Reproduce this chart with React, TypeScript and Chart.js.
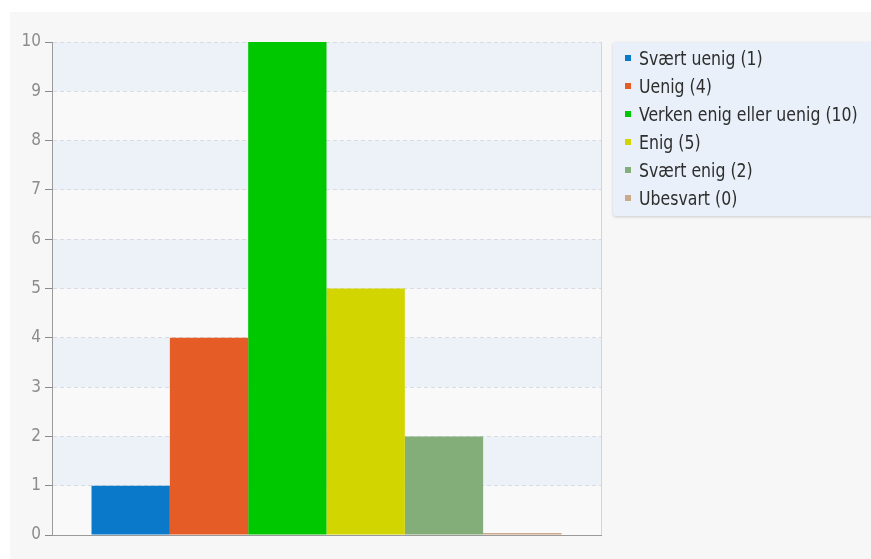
import React, { useEffect, useRef } from "react";
import { Chart, registerables } from "chart.js";

Chart.register(...registerables);

const categories = [
  "Svært uenig",
  "Uenig",
  "Verken enig eller uenig",
  "Enig",
  "Svært enig",
  "Ubesvart",
];
const counts = [1, 4, 10, 5, 2, 0];
const barColors = ["#0a79c9", "#e65c27", "#00c800", "#d3d500", "#84ae79", "#cca98a"];
const yMin = 0;
const yMax = 10;
const yStep = 1;

const FONT = '"DejaVu Sans Condensed", "DejaVu Sans", sans-serif';

const bandsPlugin = {
  id: "bands",
  beforeDraw(chart: any) {
    const { ctx, chartArea, scales } = chart;
    const { left, right, top, bottom } = chartArea;
    const y = scales.y;
    ctx.save();
    ctx.fillStyle = "#f9f9f9";
    ctx.fillRect(left, top, right - left, bottom - top);
    let idx = 0;
    for (let v = yMin; v < yMax; v += yStep, idx++) {
      if (idx % 2 === 1) {
        const y1 = y.getPixelForValue(v + yStep);
        const y0 = y.getPixelForValue(v);
        ctx.fillStyle = "#edf1f8";
        ctx.fillRect(left, y1, right - left, y0 - y1);
      }
    }
    ctx.strokeStyle = "#d4d4d4";
    ctx.lineWidth = 1;
    ctx.beginPath();
    ctx.moveTo(Math.round(right) + 0.5, top);
    ctx.lineTo(Math.round(right) + 0.5, bottom);
    ctx.stroke();
    ctx.restore();
  },
};

export default function App() {
  const canvasRef = useRef<HTMLCanvasElement | null>(null);

  useEffect(() => {
    const canvas = canvasRef.current;
    if (!canvas) return;
    const chart = new Chart(canvas, {
      type: "bar",
      data: {
        labels: [""],
        datasets: categories.map((c, i) => ({
          label: c,
          data: [counts[i]],
          backgroundColor: barColors[i],
          borderWidth: 0,
          minBarLength: 2,
        })),
      },
      options: {
        responsive: false,
        animation: false,
        devicePixelRatio: 1,
        layout: { padding: { left: 0, right: 270, top: 42, bottom: 24 } },
        plugins: {
          legend: { display: false },
          tooltip: { enabled: false },
          title: { display: false },
        },
        datasets: {
          bar: { categoryPercentage: 0.856, barPercentage: 1 },
        },
        scales: {
          x: {
            display: true,
            grid: { display: false, drawTicks: false, tickLength: 0 },
            ticks: { display: false, padding: 0 },
            border: { display: true, color: "#9a9a9a", width: 1 },
          },
          y: {
            min: yMin,
            max: yMax,
            afterFit: (s: any) => {
              s.width = 52;
            },
            ticks: {
              stepSize: yStep,
              color: "#8c8c8c",
              padding: 4,
              font: { family: FONT, size: 17 },
            },
            grid: {
              color: "#d8dce2",
              tickColor: "#8a8a8a",
              tickLength: 7,
              tickBorderDash: [],
              tickWidth: 1,
              lineWidth: 1,
            },
            border: { display: true, color: "#9a9a9a", width: 1, dash: [4, 3] },
          },
        },
      },
      plugins: [bandsPlugin],
    });
    return () => chart.destroy();
  }, []);

  return (
    <div
      style={{
        position: "fixed",
        left: 0,
        top: 0,
        width: 871,
        height: 559,
        background: "#ffffff",
        overflow: "hidden",
      }}
    >
      <div
        style={{
          position: "absolute",
          left: 10,
          top: 12,
          right: 0,
          bottom: 0,
          background: "#f7f7f7",
        }}
      />
      <canvas
        ref={canvasRef}
        width={871}
        height={559}
        style={{ position: "absolute", left: 0, top: 0, width: 871, height: 559 }}
      />
      <div
        style={{
          position: "absolute",
          left: 613,
          top: 42,
          width: 270,
          height: 174,
          boxSizing: "border-box",
          paddingTop: 2,
          background: "#e9f0f9",
          borderRadius: 3,
          boxShadow: "0 1px 3px rgba(0,0,0,0.18)",
        }}
      >
        {categories.map((c, i) => (
          <div
            key={c}
            style={{
              height: 28,
              display: "flex",
              alignItems: "center",
              paddingLeft: 12,
            }}
          >
            <span
              style={{
                width: 6,
                height: 6,
                background: barColors[i],
                marginRight: 8,
                flex: "none",
              }}
            />
            <span
              style={{
                display: "inline-block",
                fontFamily: FONT,
                fontSize: 17.5,
                color: "#2e2e2e",
                whiteSpace: "nowrap",
                transform: "scaleY(1.12)",
              }}
            >
              {`${c} (${counts[i]})`}
            </span>
          </div>
        ))}
      </div>
    </div>
  );
}
